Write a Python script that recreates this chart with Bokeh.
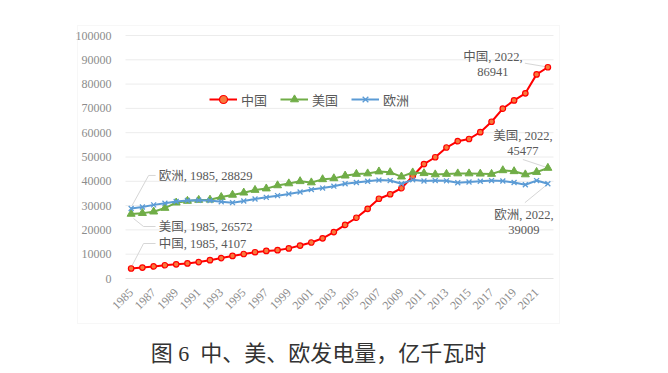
import math
from bokeh.plotting import figure
from bokeh.models import (Range1d, FixedTicker, Label, BoxAnnotation, Legend,
                          LegendItem, NumeralTickFormatter, LinearAxis)
from bokeh.embed import file_html
from bokeh.resources import INLINE

# ---------------- data ----------------
years = list(range(1985, 2023))
china = [4107, 4495, 4973, 5452, 5848, 6212, 6775, 7539, 8395, 9281,
         10077, 10813, 11356, 11670, 12393, 13556, 14808, 16540, 19106, 22033,
         25003, 28657, 32816, 34669, 37147, 42100, 47100, 49900, 53900, 56500,
         57400, 60200, 64500, 69900, 73300, 76200, 84000, 86941]
usa = [26572, 26900, 27500, 29000, 31200, 31900, 32300, 32400, 33500, 34400,
       35300, 36400, 37000, 38300, 39100, 40000, 39500, 40800, 41200, 42300,
       43000, 43200, 44000, 43700, 41900, 43600, 43300, 42800, 43000, 43200,
       43200, 43100, 43000, 44500, 44100, 42800, 43800, 45477]
europe = [28829, 29400, 30300, 31000, 31700, 32100, 32200, 32100, 31600, 31200,
          31900, 32700, 33400, 34100, 34800, 35600, 36600, 37200, 38000, 39000,
          39500, 40000, 40500, 40300, 39000, 40600, 40100, 40300, 40200, 39400,
          39700, 40000, 40300, 40100, 39500, 38600, 40300, 39009]
series_names = ["中国", "美国", "欧洲"]
y_ticks = [0, 10000, 20000, 30000, 40000, 50000, 60000, 70000, 80000, 90000, 100000]
x_ticks = years[::2]
title_text = "图\u00a06\u00a0\u00a0中、美、欧发电量，亿千瓦时"

# ---------------- layout (pixels) ----------------
W, H = 660, 365
DL, DR, DT, DB = 125, 553, 35, 278          # plot-area edges in pixels
BOX = (77, 559, 25, 323)                    # chart box: left, right, top, bottom
XD0, XD1 = years[0] - 0.5, years[-1] + 0.5  # category extents
YD0, YD1 = y_ticks[0], y_ticks[-1]
xpp = (XD1 - XD0) / (DR - DL)               # data units per pixel
ypp = (YD1 - YD0) / (DB - DT)
x_range = Range1d(XD0 - DL * xpp, XD1 + (W - DR) * xpp)
y_range = Range1d(YD0 - (H - DB) * ypp, YD1 + DT * ypp)

SERIF_CJK = "Liberation Serif, Noto Sans CJK SC"
CJK = "Noto Sans CJK SC"
LBL_COLOR = "#595959"
TICK_COLOR = "#8c8c8c"

p = figure(width=W, height=H, output_backend="svg", toolbar_location=None,
           x_range=x_range, y_range=y_range, x_axis_location=None,
           y_axis_location=None, min_border=0)
p.min_border_left = p.min_border_right = p.min_border_top = p.min_border_bottom = 0
p.outline_line_color = None
p.background_fill_color = "white"
p.border_fill_color = "white"
p.grid.visible = False

yaxis = LinearAxis(ticker=FixedTicker(ticks=y_ticks),
                   formatter=NumeralTickFormatter(format="0"),
                   fixed_location=XD0, bounds=(YD0, YD1),
                   axis_line_color=None, major_tick_line_color=None,
                   minor_tick_line_color=None, major_label_standoff=8,
                   major_label_text_font="Liberation Serif",
                   major_label_text_font_size="12px",
                   major_label_text_color=TICK_COLOR)
xaxis = LinearAxis(ticker=FixedTicker(ticks=x_ticks),
                   fixed_location=YD0, bounds=(XD0, XD1),
                   axis_line_color="#e2e2e2", major_tick_line_color=None,
                   minor_tick_line_color=None, major_label_standoff=6,
                   major_label_orientation=math.pi / 4,
                   major_label_text_font="Liberation Serif",
                   major_label_text_font_size="12px",
                   major_label_text_color=TICK_COLOR)
p.add_layout(yaxis, "left")
p.add_layout(xaxis, "below")

# horizontal gridlines across the plot area
gl = y_ticks[1:]
p.segment(x0=[XD0] * len(gl), y0=gl, x1=[XD1] * len(gl), y1=gl,
          line_color="#ececec", line_width=1)

# chart border box and title
p.add_layout(BoxAnnotation(left=BOX[0], right=BOX[1], top=H - BOX[2], bottom=H - BOX[3],
                           left_units="screen", right_units="screen",
                           top_units="screen", bottom_units="screen",
                           fill_alpha=0, line_color="#e3e3e3", line_width=1))
p.add_layout(Label(x=(BOX[0] + BOX[1]) / 2, y=H - 353, x_units="screen", y_units="screen",
                   text=title_text, text_align="center", text_baseline="middle",
                   text_font=SERIF_CJK, text_font_size="22px", text_color="#333333"))

# leader lines (drawn under the series)
LEADER = "#d6d6d6"


def leader(x, y, pts):
    xs = [x + dx * xpp for dx, dy in pts]
    ys = [y + dy * ypp for dx, dy in pts]
    p.line(xs, ys, line_color=LEADER, line_width=1)


leader(years[0], europe[0], [(1, 3), (17.5, 33), (24.5, 33)])
leader(years[0], usa[0], [(2.4, -4.6), (12.4, -12.6), (24.4, -12.6)])
leader(years[0], china[0], [(1, 3), (12.4, 25), (24.4, 25)])
leader(years[-1], china[-1], [(-23, 4), (-2, 0.5)])
leader(years[-1], usa[-1], [(-25, 8.5), (-1, 0.5)])
leader(years[-1], europe[-1], [(-23, -19), (-1, -1)])

# series
colors = ["#ff0000", "#70ad47", "#5b9bd5"]
r_cl = p.line(years, china, line_color=colors[0], line_width=2)
r_cm = p.scatter(years, china, marker="circle", size=5.5, line_color=colors[0],
                 fill_color="#f77a3c", line_width=1.2)
r_ul = p.line(years, usa, line_color=colors[1], line_width=2)
r_um = p.scatter(years, usa, marker="triangle", size=8, line_color=colors[1],
                 fill_color=colors[1])
r_el = p.line(years, europe, line_color=colors[2], line_width=2)
r_em = p.scatter(years, europe, marker="x", size=7, line_color=colors[2],
                 line_width=1.3)

legend = Legend(items=[LegendItem(label=series_names[0], renderers=[r_cl, r_cm]),
                       LegendItem(label=series_names[1], renderers=[r_ul, r_um]),
                       LegendItem(label=series_names[2], renderers=[r_el, r_em])],
                orientation="horizontal", location=(209, H - 109),
                border_line_color=None, background_fill_alpha=0,
                padding=0, margin=0, spacing=13, glyph_width=28,
                glyph_height=20, label_standoff=4, label_height=20,
                label_text_font=CJK, label_text_font_size="13px",
                label_text_color=LBL_COLOR)
p.add_layout(legend)


def dlabel(x, y, text, dx, dy, align):
    p.add_layout(Label(x=x, y=y, text=text, x_offset=dx, y_offset=dy,
                       text_align=align, text_baseline="middle",
                       text_font=SERIF_CJK, text_font_size="12.5px",
                       text_color=LBL_COLOR))


dlabel(years[0], europe[0], f"{series_names[2]}, {years[0]}, {europe[0]}", 27.5, 32, "left")
dlabel(years[0], usa[0], f"{series_names[1]}, {years[0]}, {usa[0]}", 27.5, -13.3, "left")
dlabel(years[0], china[0], f"{series_names[0]}, {years[0]}, {china[0]}", 27.5, 25, "left")

dlabel(years[-1], china[-1], f"{series_names[0]}, {years[-1]},", -55, 10, "center")
dlabel(years[-1], china[-1], f"{china[-1]}", -55, -5, "center")
dlabel(years[-1], usa[-1], f"{series_names[1]}, {years[-1]},", -25, 31.5, "center")
dlabel(years[-1], usa[-1], f"{usa[-1]}", -25, 16.5, "center")
dlabel(years[-1], europe[-1], f"{series_names[2]}, {years[-1]},", -24, -31, "center")
dlabel(years[-1], europe[-1], f"{europe[-1]}", -24, -46, "center")

open("out.html", "w").write(file_html(p, INLINE))
